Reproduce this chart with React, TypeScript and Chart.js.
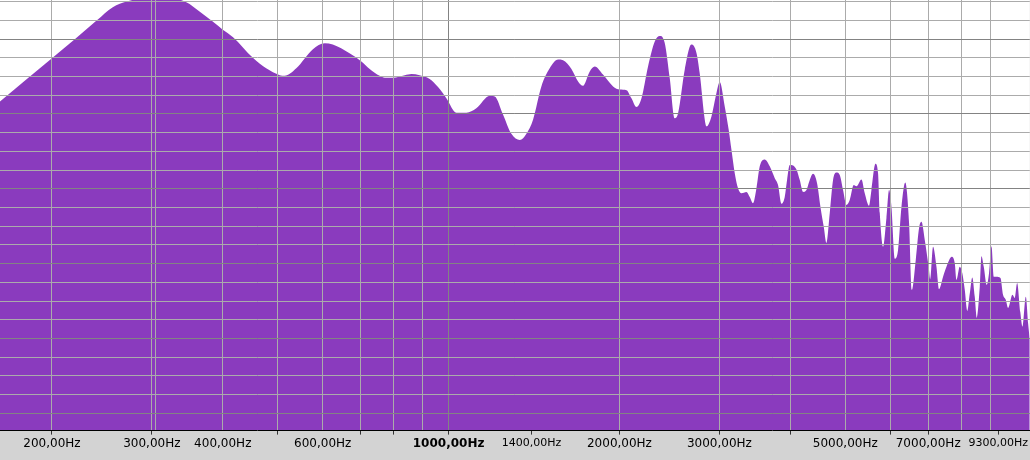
import React, { useEffect, useRef } from 'react';
import { Chart, registerables } from 'chart.js';

Chart.register(...registerables);

// Frequency (Hz) of each sampled point of the spectrum envelope
const FREQS = [
  162, 200, 221, 240, 256, 271, 306, 345, 364, 384,
  400, 417, 452, 477, 504, 514, 539, 576, 605, 625,
  669, 702, 726, 756, 772, 798, 837, 860, 889, 926,
  958, 991, 1032, 1075, 1119, 1182, 1206, 1247, 1290, 1335,
  1371, 1409, 1457, 1507, 1559, 1591, 1646, 1691, 1725, 1773,
  1809, 1871, 1949, 2002, 2058, 2100, 2143, 2187, 2246, 2308,
  2355, 2403, 2453, 2503, 2537, 2607, 2678, 2733, 2770, 2827,
  2847, 2905, 2964, 3004, 3066, 3116, 3151, 3193, 3236, 3281,
  3348, 3393, 3439, 3487, 3534, 3606, 3680, 3756, 3806, 3859,
  3911, 3948, 3991, 4101, 4157, 4213, 4271, 4329, 4387, 4459,
  4521, 4582, 4632, 4695, 4758, 4824, 4889, 4955, 5024, 5091,
  5175, 5232, 5339, 5411, 5506, 5560, 5651, 5711, 5751, 5828,
  5909, 5972, 6030, 6112, 6194, 6280, 6378, 6477, 6548, 6655,
  6745, 6811, 6903, 7016, 7058, 7139, 7238, 7315, 7435, 7538,
  7702, 7796, 7850, 7956, 8037, 8119, 8202, 8286, 8370, 8455,
  8524, 8629, 8688, 8770, 8877, 8960, 9048, 9133, 9234, 9385,
  9484, 9589, 9679, 9852, 9944, 10041, 10172, 10263, 10401, 10499, 10571,
];

// Level (dB) at each frequency
const LEVELS = [
  -16.0, -9.1, -5.8, -3.0, -0.9, 0.0, 0.9, -0.1, -1.6, -3.2,
  -4.5, -5.7, -9.0, -10.7, -11.8, -11.9, -10.7, -7.7, -6.7, -6.9,
  -8.3, -9.6, -10.8, -11.9, -12.2, -12.2, -11.8, -11.6, -11.8, -12.4,
  -13.7, -15.5, -17.8, -17.8, -17.1, -15.1, -15.2, -18.1, -21.2, -22.2,
  -21.2, -18.9, -13.6, -10.7, -9.3, -9.4, -10.8, -12.8, -13.5, -11.2,
  -10.4, -11.7, -13.6, -14.1, -14.2, -15.5, -16.9, -15.5, -10.4, -6.4,
  -5.5, -6.6, -12.3, -18.7, -17.9, -10.9, -6.9, -8.2, -11.5, -18.9,
  -20.0, -18.4, -14.7, -12.9, -16.8, -20.6, -23.8, -27.5, -29.9, -30.7,
  -30.5, -31.3, -32.3, -29.9, -26.4, -25.3, -26.4, -28.3, -29.4, -32.4,
  -31.3, -28.6, -26.2, -26.9, -28.6, -30.5, -30.2, -28.6, -27.6, -29.1,
  -32.9, -36.1, -38.7, -33.9, -28.6, -27.4, -27.8, -30.2, -32.6, -31.8,
  -29.4, -29.6, -28.5, -30.7, -32.7, -30.2, -26.0, -27.5, -33.9, -39.3,
  -34.7, -30.2, -32.9, -41.2, -39.8, -32.9, -29.0, -35.5, -46.2, -41.4,
  -36.3, -35.3, -38.2, -42.7, -44.5, -39.3, -42.5, -46.1, -44.1, -42.5,
  -40.9, -41.9, -44.6, -42.5, -43.5, -46.2, -49.6, -46.8, -44.2, -47.3,
  -50.7, -45.7, -40.8, -42.5, -45.4, -43.5, -39.2, -44.1, -44.1, -44.3,
  -47.0, -47.8, -49.1, -47.0, -47.5, -45.1, -49.8, -52.1, -47.3, -51.6, -54.2,
];

// Frequency axis ticks / grid
const TICK_FREQS = [200, 300, 304, 400, 500, 600, 700, 800, 900, 1000, 1400, 2000, 3000, 4000, 5000, 6000, 7000, 8000, 9000, 9300];
const TICK_LABELS = ['200,00Hz', '300,00Hz', '', '400,00Hz', '', '600,00Hz', '', '', '', '1000,00Hz', '1400,00Hz', '2000,00Hz', '3000,00Hz', '', '5000,00Hz', '', '7000,00Hz', '', '', '9300,00Hz'];
const SMALL_LABEL_FREQS = [1400, 9300];
const BOLD_LABEL_FREQS = [1000];
const NO_GRID_FREQS = [1400, 9300];
const TICK_MARK_FREQS = [200, 300, 500, 700, 800, 1000, 1400, 2000, 3000, 4000, 6000, 7000, 9300];
const DARK_GRID_FREQS = [1000];

// Level axis grid (dB)
const DB_GRID = [0, -3, -6, -9, -12, -15, -18, -21, -24, -27, -30, -33, -36, -39, -42, -45, -48, -51, -54, -57, -60, -63, -66];
const DB_DARK = [-6, -18, -30, -42, -54, -66];

const X_MIN = 162;
const X_MAX = 10571;
const Y_MIN = -68.75;
const Y_MAX = 0.25;

const FILL = '#8a3bbe';
const GRID_LIGHT = '#ababab';
const GRID_DARK = '#838383';
const AXIS_BG = '#d3d3d3';

export default function App() {
  const canvasRef = useRef<HTMLCanvasElement | null>(null);

  useEffect(() => {
    const canvas = canvasRef.current;
    if (!canvas) return;

    const bgPlugin = {
      id: 'bgPlugin',
      beforeDraw(chart: any) {
        const { ctx, chartArea } = chart;
        ctx.save();
        ctx.fillStyle = AXIS_BG;
        ctx.fillRect(0, 0, chart.width, chart.height);
        ctx.fillStyle = '#ffffff';
        ctx.fillRect(chartArea.left, chartArea.top, chartArea.right - chartArea.left, chartArea.bottom - chartArea.top);
        ctx.restore();
      },
    };

    const data = FREQS.map((f, i) => ({ x: f, y: LEVELS[i] }));

    const chart = new Chart(canvas, {
      type: 'line',
      data: {
        datasets: [
          {
            data,
            borderColor: FILL,
            borderWidth: 0,
            backgroundColor: FILL,
            fill: 'start',
            pointRadius: 0,
            cubicInterpolationMode: 'monotone',
          },
        ],
      },
      options: {
        animation: false,
        responsive: true,
        maintainAspectRatio: false,
        layout: { padding: { left: 0, right: 0, top: 0, bottom: 7 } },
        plugins: {
          legend: { display: false },
          tooltip: { enabled: false },
          title: { display: false },
        },
        scales: {
          x: {
            type: 'logarithmic',
            min: X_MIN,
            max: X_MAX,
            afterBuildTicks(scale: any) {
              scale.ticks = TICK_FREQS.map((v) => ({ value: v }));
            },
            grid: {
              display: true,
              drawTicks: true,
              tickLength: 4,
              lineWidth: 1,
              z: 1,
              color: (ctx: any) => {
                const v = ctx.tick ? ctx.tick.value : 0;
                if (NO_GRID_FREQS.includes(v)) return 'rgba(0,0,0,0)';
                return DARK_GRID_FREQS.includes(v) ? GRID_DARK : GRID_LIGHT;
              },
              tickColor: (ctx: any) => {
                const v = ctx.tick ? ctx.tick.value : 0;
                return TICK_MARK_FREQS.includes(v) ? '#333333' : 'rgba(0,0,0,0)';
              },
            },
            border: { display: true, color: '#000000', width: 1, z: 2 },
            ticks: {
              autoSkip: false,
              maxRotation: 0,
              minRotation: 0,
              padding: 2,
              color: '#000000',
              font: (ctx: any) => {
                const v = ctx.tick ? ctx.tick.value : 0;
                if (BOLD_LABEL_FREQS.includes(v)) return { family: 'DejaVu Sans', size: 12, weight: 'bold' };
                if (SMALL_LABEL_FREQS.includes(v)) return { family: 'DejaVu Sans', size: 11 };
                return { family: 'DejaVu Sans', size: 12 };
              },
              callback: (value: any) => {
                const i = TICK_FREQS.indexOf(Number(value));
                return i >= 0 ? TICK_LABELS[i] : '';
              },
            },
          },
          y: {
            type: 'linear',
            min: Y_MIN,
            max: Y_MAX,
            afterBuildTicks(scale: any) {
              scale.ticks = DB_GRID.map((v) => ({ value: v }));
            },
            grid: {
              display: true,
              drawTicks: false,
              lineWidth: 1,
              z: 1,
              color: (ctx: any) => {
                const v = ctx.tick ? ctx.tick.value : 0;
                return DB_DARK.includes(v) ? GRID_DARK : GRID_LIGHT;
              },
            },
            border: { display: false },
            ticks: { display: false },
          },
        },
      },
      plugins: [bgPlugin],
    });

    return () => chart.destroy();
  }, []);

  return (
    <div style={{ position: 'absolute', left: 0, top: 0, width: 1030, height: 460, background: AXIS_BG }}>
      <canvas ref={canvasRef} />
    </div>
  );
}
